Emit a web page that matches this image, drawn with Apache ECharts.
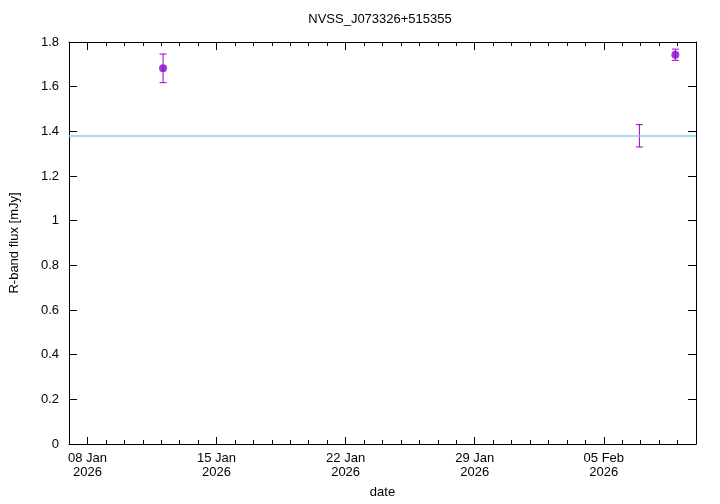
<!DOCTYPE html>
<html>
<head>
<meta charset="utf-8">
<script src="https://cdn.jsdelivr.net/npm/echarts@6/dist/echarts.min.js"></script>
<style>html,body{margin:0;padding:0;background:#fff}#c{width:720px;height:504px}</style>
</head>
<body>
<div id="c"></div>
<script>
// ---- data ----
const titleText = 'NVSS_J073326+515355';
const obsDates = ['2026-01-12T02:24', '2026-02-06T22:20', '2026-02-08T21:07'];
const fluxValues = [1.682, 1.380, 1.743];
const fluxErrors = [0.064, 0.050, 0.025];
const markerShown = [true, false, true];
const referenceLevel = 1.38;
const xStartDate = '2026-01-07';
const xEndDate = '2026-02-10';
const majorTickDates = ['2026-01-08', '2026-01-15', '2026-01-22', '2026-01-29', '2026-02-05'];
const majorTickLabels = ['08 Jan\n2026', '15 Jan\n2026', '22 Jan\n2026', '29 Jan\n2026', '05 Feb\n2026'];
const yMin = 0, yMax = 1.8, yStep = 0.2;

// ---- helpers ----
const DAY = 86400000;
const origin = Date.parse(majorTickDates[0] + 'T00:00Z');
const toDay = s => (Date.parse((s.length === 10 ? s + 'T00:00' : s) + 'Z') - origin) / DAY;
const xMin = toDay(xStartDate), xMax = toDay(xEndDate);
const majMin = toDay(majorTickDates[0]);
const majStep = toDay(majorTickDates[1]) - majMin;

const pts = obsDates.map((d, i) => [toDay(d), fluxValues[i], fluxValues[i] - fluxErrors[i], fluxValues[i] + fluxErrors[i]]);
const markerPts = pts.filter((p, i) => markerShown[i]).map(p => [p[0], p[1]]);

const gridLeft = 69, gridRight = 24, gridTop = 42, gridBottom = 59;
const plotW = 720 - gridLeft - gridRight;
const pxPerDay = plotW / (xMax - xMin);

const FONT = 'Liberation Sans, Arial, sans-serif';
const FS = 13;
const black = '#000';
const purple = '#9400d3';

const chart = echarts.init(document.getElementById('c'), null, {renderer: 'canvas'});
const option = {
  animation: false,
  backgroundColor: '#fff',
  textStyle: {fontFamily: FONT},
  graphic: [{
    type: 'text', x: 380, y: 13,
    style: {text: titleText, align: 'center', verticalAlign: 'top', textAlign: 'center', fontSize: FS, fontFamily: FONT, fill: black}
  }],
  grid: [
    {left: gridLeft, right: gridRight, top: gridTop, bottom: gridBottom},
    {left: gridLeft + (majMin - xMin) * pxPerDay, right: gridRight, top: gridTop, bottom: gridBottom}
  ],
  xAxis: [
    {gridIndex: 0, type: 'value', position: 'bottom', min: xMin, max: xMax, interval: 1,
     name: 'date', nameLocation: 'middle', nameGap: 42,
     nameTextStyle: {color: black, fontSize: FS, fontFamily: FONT},
     axisLine: {show: true, onZero: false, lineStyle: {color: black, width: 1}},
     axisTick: {show: true, inside: true, length: 4, lineStyle: {color: black}},
     axisLabel: {show: false}, splitLine: {show: false}},
    {gridIndex: 0, type: 'value', position: 'top', min: xMin, max: xMax, interval: 1,
     axisLine: {show: true, onZero: false, lineStyle: {color: black, width: 1}},
     axisTick: {show: true, inside: true, length: 4, lineStyle: {color: black}},
     axisLabel: {show: false}, splitLine: {show: false}},
    {gridIndex: 1, type: 'value', position: 'bottom', min: majMin, max: xMax, interval: majStep,
     axisLine: {show: false, onZero: false},
     axisTick: {show: true, inside: true, length: 8, lineStyle: {color: black}},
     axisLabel: {show: true, margin: 6, color: black, fontSize: FS, fontFamily: FONT, lineHeight: 14,
       showMaxLabel: false,
       formatter: v => { const k = Math.round((v - majMin) / majStep); return (Math.abs(v - majMin - k * majStep) < 1e-6 && majorTickLabels[k]) ? majorTickLabels[k] : ''; }},
     splitLine: {show: false}},
    {gridIndex: 1, type: 'value', position: 'top', min: majMin, max: xMax, interval: majStep,
     axisLine: {show: false, onZero: false},
     axisTick: {show: true, inside: true, length: 8, lineStyle: {color: black}},
     axisLabel: {show: false}, splitLine: {show: false}}
  ],
  yAxis: [
    {gridIndex: 0, type: 'value', position: 'left', min: yMin, max: yMax, interval: yStep,
     name: 'R-band flux [mJy]', nameLocation: 'middle', nameGap: 48, nameRotate: 90,
     nameTextStyle: {color: black, fontSize: FS, fontFamily: FONT},
     axisLine: {show: true, onZero: false, lineStyle: {color: black, width: 1}},
     axisTick: {show: true, inside: true, length: 8, lineStyle: {color: black}},
     axisLabel: {show: true, margin: 10, color: black, fontSize: FS, fontFamily: FONT,
       formatter: v => String(Math.round(v * 10) / 10)},
     splitLine: {show: false}},
    {gridIndex: 0, type: 'value', position: 'right', min: yMin, max: yMax, interval: yStep,
     axisLine: {show: true, onZero: false, lineStyle: {color: black, width: 1}},
     axisTick: {show: true, inside: true, length: 8, lineStyle: {color: black}},
     axisLabel: {show: false}, splitLine: {show: false}},
    {gridIndex: 1, type: 'value', min: yMin, max: yMax, show: false}
  ],
  series: [
    {type: 'line', xAxisIndex: 0, yAxisIndex: 0, data: [], silent: true,
     markLine: {silent: true, symbol: ['none', 'none'], label: {show: false},
       lineStyle: {color: '#87ceeb', width: 1.5, type: 'solid'},
       data: [{yAxis: referenceLevel}]}},
    {type: 'custom', xAxisIndex: 0, yAxisIndex: 0, data: pts, silent: true, z: 3,
     renderItem: (params, api) => {
       const x = api.value(0);
       const lo = api.coord([x, api.value(2)]);
       const hi = api.coord([x, api.value(3)]);
       const cap = 3.5;
       const st = {stroke: purple, lineWidth: 1};
       return {type: 'group', children: [
         {type: 'line', shape: {x1: lo[0], y1: lo[1], x2: hi[0], y2: hi[1]}, style: st},
         {type: 'line', shape: {x1: lo[0] - cap, y1: lo[1], x2: lo[0] + cap, y2: lo[1]}, style: st},
         {type: 'line', shape: {x1: hi[0] - cap, y1: hi[1], x2: hi[0] + cap, y2: hi[1]}, style: st}
       ]};
     }},
    {type: 'scatter', xAxisIndex: 0, yAxisIndex: 0, data: markerPts, symbol: 'circle', symbolSize: 8,
     itemStyle: {color: purple}, z: 4, silent: true}
  ]
};
chart.setOption(option);
</script>
</body>
</html>
